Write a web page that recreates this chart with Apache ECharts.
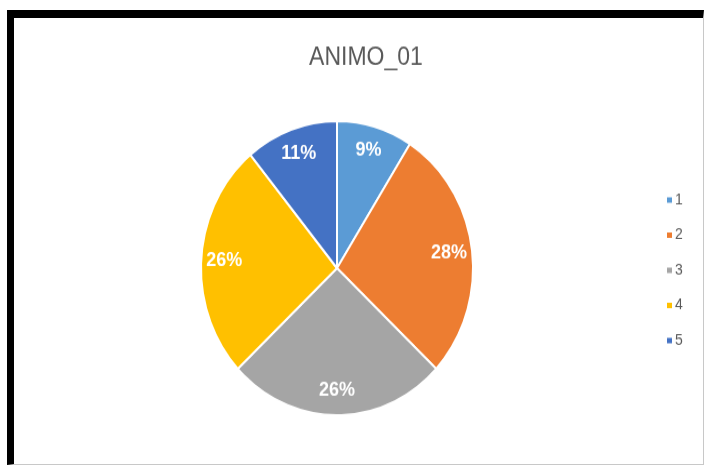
<!DOCTYPE html>
<html>
<head>
<meta charset="utf-8">
<script src="https://cdn.jsdelivr.net/npm/echarts@6/dist/echarts.min.js"></script>
<style>
  html, body { margin: 0; padding: 0; background: #ffffff; width: 705px; height: 466px; overflow: hidden; }
  #chart { position: absolute; left: 0; top: 0; width: 705px; height: 431px; transform: scaleY(1.0812); transform-origin: 0 0; }
  #frame { position: absolute; left: 7px; top: 10px; width: 697px; height: 455px; box-sizing: border-box;
           border-left: 7px solid #000; border-top: 8px solid #000; border-right: 1px solid #c8c8c8; border-bottom: 1px solid #c8c8c8;
           pointer-events: none; }
</style>
</head>
<body>
<div id="chart"></div>
<div id="frame"></div>
<script>
const title = 'ANIMO_01';
const categories = ['1', '2', '3', '4', '5'];
const values = [9, 28, 26, 26, 11];
const colors = ['#5B9BD5', '#ED7D31', '#A5A5A5', '#FFC000', '#4472C4'];

const chart = echarts.init(document.getElementById('chart'), null, { renderer: 'canvas' });
const data = categories.map((c, i) => ({ name: c, value: values[i] }));

chart.setOption({
  animation: false,
  title: {
    text: title,
    left: 361, top: 37, textAlign: 'center',
    textStyle: { fontFamily: 'Liberation Sans', fontSize: 23, fontWeight: 'normal', color: '#595959' }
  },
  legend: {
    orient: 'vertical',
    left: 660, top: 173,
    itemWidth: 7, itemHeight: 7, itemGap: 18.5,
    icon: 'rect',
    data: categories,
    textStyle: { fontFamily: 'Liberation Sans', fontSize: 14, color: '#595959', padding: [0, 0, 0, -3] }
  },
  color: colors,
  series: [
    {
      type: 'pie',
      center: [337, 248],
      radius: [0, 136],
      startAngle: 90,
      clockwise: true,
      data: data,
      label: { show: false },
      labelLine: { show: false },
      itemStyle: { borderColor: '#ffffff', borderWidth: 2 },
      emphasis: { disabled: true },
      silent: true
    },
    {
      type: 'pie',
      center: [337, 248],
      radius: [96, 124],
      startAngle: 90,
      clockwise: true,
      percentPrecision: 0,
      data: data,
      itemStyle: { color: 'rgba(0,0,0,0)' },
      label: {
        show: true, position: 'inside', formatter: '{d}%',
        fontFamily: 'Liberation Sans', fontWeight: 'bold', fontSize: 18, color: '#ffffff'
      },
      labelLine: { show: false },
      emphasis: { disabled: true },
      silent: true
    }
  ]
});
</script>
</body>
</html>
